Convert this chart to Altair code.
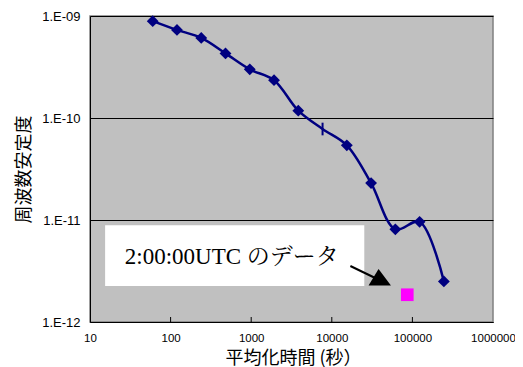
import altair as alt
import pandas as pd

# averaging time (s) and frequency stability
tau = [60, 120, 240, 480, 960, 1920, 3840, 7680, 15360, 30720, 61440, 122880, 245760]
adev = [8.9e-10, 7.3e-10, 6.1e-10, 4.3e-10, 3.0e-10, 2.35e-10, 1.18e-10, 7.8e-11,
        5.4e-11, 2.3e-11, 8.1e-12, 9.6e-12, 2.5e-12]
marker = ["diamond"] * 7 + ["dash"] + ["diamond"] * 5

# 2:00:00 UTC data point
utc_tau = [86400]
utc_adev = [1.85e-12]

# annotation (data space)
note_text = ["2:00:00UTC のデータ"]
note_x = [27]
note_y = [4.35e-12]
box_x = [15.4]
box_x2 = [25300]
box_y = [2.25e-12]
box_y2 = [8.9e-12]
arrow_x = [16990, 38900]
arrow_y = [3.54e-12, 2.58e-12]

x_ticks = [10, 100, 1000, 10000, 100000, 1000000]
y_ticks = [1e-12, 1e-11, 1e-10, 1e-9]

W, H = 403, 306

xs = alt.Scale(type="log", domain=[10, 1e6], nice=False)
ys = alt.Scale(type="log", domain=[1e-12, 1e-9], nice=False)

xaxis = alt.Axis(values=x_ticks, labelExpr="format(datum.value, 'd')", grid=False, ticks=False,
                 domainColor="black", labelFont="Liberation Sans", labelFontSize=11.5,
                 labelColor="black", labelPadding=10, labelFlush=False,
                 titleFont="Noto Sans CJK JP", titleFontSize=18, titleFontWeight="normal",
                 titleColor="black", titleX=203, titleY=36, titleBaseline="middle")
yaxis = alt.Axis(values=y_ticks,
                 labelExpr="'1.E-' + (round(-log(datum.value)/LN10) < 10 ? '0' : '') + round(-log(datum.value)/LN10)",
                 grid=True, gridColor="black", gridOpacity=1, gridWidth=1, ticks=False,
                 domainColor="black", labelFont="Liberation Sans", labelFontSize=13,
                 labelColor="black", labelPadding=10, labelFlush=False,
                 titleFont="Noto Sans CJK JP", titleFontSize=18, titleFontWeight="normal",
                 titleColor="black", titleX=-66, titleY=153, titleAngle=270,
                 titleAlign="center", titleBaseline="middle")

XT = "平均化時間 (秒）"
YT = "周波数安定度"


def X(f):
    return alt.X(f, type="quantitative", scale=xs, axis=xaxis, title=XT)


def Y(f):
    return alt.Y(f, type="quantitative", scale=ys, axis=yaxis, title=YT)


main = pd.DataFrame({"tau": tau, "adev": adev, "marker": marker})

box = alt.Chart(pd.DataFrame({"x": box_x, "x2": box_x2, "y": box_y, "y2": box_y2})).mark_rect(
    fill="white").encode(x=X("x"), x2="x2", y=Y("y"), y2="y2")

xt = alt.Chart(pd.DataFrame({"v": x_ticks[1:-1]})).mark_rule(color="black", strokeWidth=1).encode(
    x=X("v"), y=alt.value(H), y2=alt.value(H - 5))

line = alt.Chart(main).mark_line(color="#000080", strokeWidth=2.5, interpolate="catmull-rom").encode(
    x=X("tau"), y=Y("adev"))

dia = alt.Chart(main).transform_filter("datum.marker == 'diamond'").mark_point(
    shape="diamond", filled=True, color="#000080", size=140, opacity=1).encode(x=X("tau"), y=Y("adev"))

dash = alt.Chart(main).transform_filter("datum.marker == 'dash'").mark_point(
    shape="M0,-1L0,1", filled=False, color="#000080", strokeWidth=2, size=160, opacity=1).encode(
    x=X("tau"), y=Y("adev"))

sq = alt.Chart(pd.DataFrame({"tau": utc_tau, "adev": utc_adev})).mark_point(
    shape="square", filled=True, color="#FF00FF", size=160, opacity=1).encode(x=X("tau"), y=Y("adev"))

arrow = alt.Chart(pd.DataFrame({"x": arrow_x, "y": arrow_y})).mark_line(color="black", strokeWidth=2).encode(
    x=X("x"), y=Y("y"))

head = alt.Chart(pd.DataFrame({"x": arrow_x[-1:], "y": arrow_y[-1:]})).mark_point(
    shape="M-0.07,-0.96L-0.93,0.48L1,0.48Z", filled=True, color="black", size=538, opacity=1).encode(
    x=X("x"), y=Y("y"))

txt = alt.Chart(pd.DataFrame({"x": note_x, "y": note_y, "t": note_text})).mark_text(
    align="left", baseline="middle", font="'Liberation Serif', 'Noto Serif CJK JP', 'Noto Sans CJK JP'",
    fontSize=23, color="black").encode(x=X("x"), y=Y("y"), text="t:N")

chart = alt.layer(box, xt, line, dia, dash, sq, arrow, head, txt).properties(
    width=W, height=H,
    autosize=alt.AutoSizeParams(type="none"),
    padding={"left": 82, "top": 8, "right": 22, "bottom": 45},
    background="white",
).configure_view(fill="#C0C0C0", stroke="#808080", strokeWidth=1.5)

chart.save("out.html", embed_options={"renderer": "svg", "actions": False})
